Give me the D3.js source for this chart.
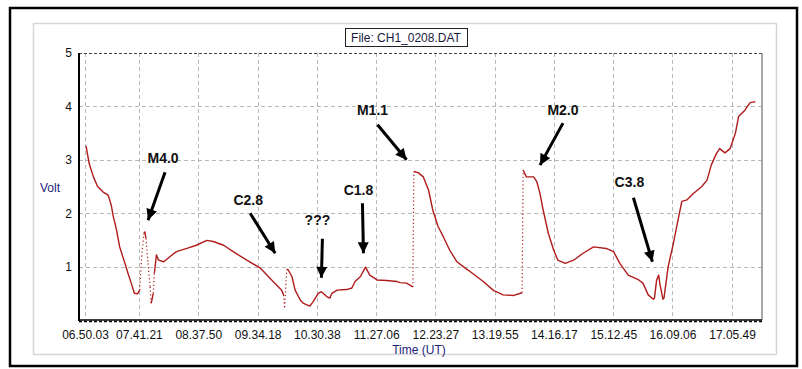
<!DOCTYPE html>
<html>
<head>
<meta charset="utf-8">
<script src="https://cdn.jsdelivr.net/npm/d3@7"></script>
<style>
  body { margin: 0; background: #fff; }
  svg { display: block; font-family: "Liberation Sans", Arial, sans-serif; }
</style>
</head>
<body>
<div id="chart"></div>
<script>
// readings, time (UT) and volts
const times = [
  "06:51", "06:54", "06:58", "07:02", "07:07", "07:12", "07:15", "07:17", "07:20", "07:23",
  "07:28", "07:31", "07:34", "07:37", "07:40", "07:42", "07:44", "07:46", "07:47", "07:48",
  "07:50", "07:52", "07:53", "07:55", "07:56", "07:58", "08:00", "08:05", "08:11", "08:17",
  "08:27", "08:36", "08:46", "08:52", "09:02", "09:11", "09:24", "09:37", "09:49", "09:57",
  "09:59", "10:00", "10:02", "10:03", "10:07", "10:10", "10:15", "10:18", "10:24", "10:27",
  "10:32", "10:35", "10:40", "10:43", "10:45", "10:50", "10:59", "11:04", "11:07", "11:12",
  "11:17", "11:21", "11:28", "11:37", "11:47", "11:50", "11:56", "12:02", "12:03", "12:07",
  "12:12", "12:17", "12:21", "12:26", "12:31", "12:37", "12:44", "12:50", "12:59", "13:09",
  "13:19", "13:28", "13:38", "13:46", "13:47", "13:50", "13:57", "14:00", "14:03", "14:06",
  "14:11", "14:16", "14:20", "14:27", "14:35", "14:44", "14:54", "15:06", "15:13", "15:19",
  "15:27", "15:37", "15:41", "15:46", "15:51", "15:52", "15:54", "15:56", "15:57", "16:00",
  "16:01", "16:05", "16:10", "16:15", "16:18", "16:23", "16:29", "16:37", "16:42", "16:46",
  "16:51", "16:54", "16:59", "17:04", "17:09", "17:12", "17:18", "17:23", "17:28"
];
const volts = [
  3.26, 2.93, 2.68, 2.50, 2.40, 2.34, 2.15, 1.93, 1.69, 1.37,
  1.06, 0.87, 0.69, 0.50, 0.49, 0.56, 1.19, 1.62, 1.65, 1.53,
  1.06, 0.62, 0.31, 0.50, 0.87, 1.22, 1.12, 1.09, 1.19, 1.28,
  1.34, 1.40, 1.49, 1.47, 1.40, 1.28, 1.12, 0.97, 0.72, 0.56,
  0.47, 0.24, 0.94, 0.95, 0.81, 0.56, 0.37, 0.31, 0.26, 0.34,
  0.50, 0.53, 0.44, 0.41, 0.50, 0.56, 0.57, 0.60, 0.72, 0.81,
  0.99, 0.84, 0.75, 0.74, 0.72, 0.70, 0.69, 0.62, 2.78, 2.76,
  2.68, 2.43, 2.06, 1.75, 1.56, 1.31, 1.09, 1.00, 0.87, 0.72,
  0.55, 0.47, 0.46, 0.51, 2.81, 2.68, 2.68, 2.59, 2.37, 2.06,
  1.62, 1.31, 1.12, 1.06, 1.12, 1.25, 1.37, 1.34, 1.28, 1.06,
  0.84, 0.75, 0.69, 0.47, 0.39, 0.41, 0.75, 0.84, 0.69, 0.39,
  0.41, 1.00, 1.44, 1.93, 2.22, 2.25, 2.37, 2.50, 2.62, 2.90,
  3.12, 3.21, 3.13, 3.21, 3.50, 3.81, 3.93, 4.07, 4.09
];

const tickLabels = ["06.50.03", "07.41.21", "08.37.50", "09.34.18", "10.30.38", "11.27.06",
  "12.23.27", "13.19.55", "14.16.17", "15.12.45", "16.09.06", "17.05.49"];
const voltTicks = [1, 2, 3, 4, 5];

// flare labels: arrow tip at (time, volt), tail and label offset in px
const noteLabels = ["M4.0", "C2.8", "???", "C1.8", "M1.1", "M2.0", "C3.8"];
const noteTimes = ["07:50", "09:51", "10:35", "11:15", "11:56", "14:03", "15:50"];
const noteVolts = [1.87, 1.25, 0.79, 1.25, 3.0, 2.9, 1.09];
const noteTail = [[17, -48], [-25, -40], [1, -39], [-1, -50], [-29, -35], [23, -42], [-19, -64]];
const noteText = [[15, -57], [-27, -48], [-4, -53], [-5, -58], [-34, -45], [23, -50], [-23, -75]];

const W = 802, H = 369;
const PLOT = {left: 79, right: 762, top: 53, bottom: 320};

const parseHM = d3.timeParse("%H:%M");
const parseHMS = d3.timeParse("%H:%M:%S");
const parseTick = d3.timeParse("%H.%M.%S");

const svg = d3.select("#chart").append("svg")
  .attr("width", W)
  .attr("height", H);

// outer frame and inner panel
svg.append("rect")
  .attr("x", 10).attr("y", 8).attr("width", 787).attr("height", 358)
  .attr("fill", "#fff").attr("stroke", "#000").attr("stroke-width", 2.5);
svg.append("rect")
  .attr("x", 33.5).attr("y", 23.5).attr("width", 743).attr("height", 331)
  .attr("fill", "#fff").attr("stroke", "#d6d6d6").attr("stroke-width", 1.5);

const x = d3.scaleTime()
  .domain([parseHMS("06:44:18"), parseHMS("17:34:18")])
  .range([PLOT.left, PLOT.right]);

const y = d3.scaleLinear()
  .domain([0, 5])
  .range([PLOT.bottom, PLOT.top]);

const tickDates = tickLabels.map(parseTick);

// grid
svg.append("g").selectAll("line")
  .data(tickDates)
  .join("line")
  .attr("x1", d => Math.round(x(d)) + 0.5).attr("x2", d => Math.round(x(d)) + 0.5)
  .attr("y1", PLOT.top).attr("y2", PLOT.bottom)
  .attr("stroke", "#b8b8b8").attr("stroke-dasharray", "4,3");

svg.append("g").selectAll("line")
  .data(voltTicks.filter(v => v < 5))
  .join("line")
  .attr("x1", PLOT.left).attr("x2", PLOT.right)
  .attr("y1", d => Math.round(y(d)) + 0.5).attr("y2", d => Math.round(y(d)) + 0.5)
  .attr("stroke", "#b8b8b8").attr("stroke-dasharray", "4,3");

// top dashed border, right solid border
svg.append("line")
  .attr("x1", PLOT.left).attr("x2", PLOT.right)
  .attr("y1", y(5) + 0.5).attr("y2", y(5) + 0.5)
  .attr("stroke", "#444").attr("stroke-dasharray", "3,2").attr("stroke-width", 1.2);
svg.append("line")
  .attr("x1", PLOT.right).attr("x2", PLOT.right)
  .attr("y1", PLOT.top).attr("y2", PLOT.bottom)
  .attr("stroke", "#8a8a8a").attr("stroke-width", 1.5);

// axes
const xAxis = d3.axisBottom(x)
  .tickValues(tickDates)
  .tickFormat(d3.timeFormat("%H.%M.%S"))
  .tickSize(0)
  .tickPadding(10);

const gx = svg.append("g")
  .attr("transform", `translate(0,${PLOT.bottom})`)
  .call(xAxis);
gx.select(".domain").remove();
gx.selectAll("text").attr("font-size", 12).attr("fill", "#111")
  .attr("font-family", "'Liberation Sans', Arial, sans-serif");

const yAxis = d3.axisLeft(y)
  .tickValues(voltTicks)
  .tickFormat(d3.format("d"))
  .tickSize(0)
  .tickPadding(7);

const gy = svg.append("g")
  .attr("transform", `translate(${PLOT.left},0)`)
  .call(yAxis);
gy.select(".domain").remove();
gy.selectAll("text").attr("font-size", 12).attr("fill", "#111")
  .attr("font-family", "'Liberation Sans', Arial, sans-serif");

svg.append("line")
  .attr("x1", PLOT.left).attr("x2", PLOT.left)
  .attr("y1", PLOT.top).attr("y2", PLOT.bottom + 1)
  .attr("stroke", "#000").attr("stroke-width", 2);
svg.append("line")
  .attr("x1", PLOT.left - 1).attr("x2", PLOT.right)
  .attr("y1", PLOT.bottom).attr("y2", PLOT.bottom)
  .attr("stroke", "#000").attr("stroke-width", 1.5);
svg.append("line")
  .attr("x1", PLOT.left).attr("x2", PLOT.right)
  .attr("y1", PLOT.bottom + 1.5).attr("y2", PLOT.bottom + 1.5)
  .attr("stroke", "#000").attr("stroke-width", 1.5).attr("stroke-dasharray", "3,2");

// axis titles
svg.append("text")
  .attr("x", 40).attr("y", 192)
  .attr("font-size", 12).attr("fill", "#1e1e78")
  .text("Volt");
svg.append("text")
  .attr("x", 419).attr("y", 354)
  .attr("text-anchor", "middle")
  .attr("font-size", 12).attr("fill", "#1e1e78")
  .text("Time (UT)");

// file title box
const title = svg.append("g");
title.append("rect")
  .attr("x", 345.5).attr("y", 28.5).attr("width", 122).attr("height", 18)
  .attr("fill", "#fff").attr("stroke", "#222").attr("stroke-width", 1);
title.append("text")
  .attr("x", 406).attr("y", 42)
  .attr("text-anchor", "middle")
  .attr("font-size", 12).attr("fill", "#1a1a40")
  .text("File: CH1_0208.DAT");

// the trace: steep jumps (sparse samples) drawn dotted
const pts = times.map((t, i) => ({t: parseHM(t), v: volts[i]}));
const line = d3.line().x(d => x(d.t)).y(d => y(d.v));

const runs = [];
let run = [pts[0]];
for (let i = 1; i < pts.length; i++) {
  const dtMin = (pts[i].t - pts[i - 1].t) / 60000;
  const steep = Math.abs(pts[i].v - pts[i - 1].v) / dtMin > 0.2;
  if (steep) {
    runs.push(run);
    svg.append("path")
      .datum([pts[i - 1], pts[i]])
      .attr("fill", "none")
      .attr("stroke", "#b01c1c")
      .attr("stroke-width", 1.2)
      .attr("stroke-dasharray", "1.2,2.5")
      .attr("d", line);
    run = [pts[i]];
  } else {
    run.push(pts[i]);
  }
}
runs.push(run);

svg.append("g").selectAll("path")
  .data(runs.filter(r => r.length > 1))
  .join("path")
  .attr("fill", "none")
  .attr("stroke", "#b01c1c")
  .attr("stroke-width", 1.4)
  .attr("stroke-linejoin", "round")
  .attr("d", line);

// arrows and labels
svg.append("defs").append("marker")
  .attr("id", "head")
  .attr("viewBox", "0 0 10 10")
  .attr("refX", 10).attr("refY", 5)
  .attr("markerUnits", "userSpaceOnUse")
  .attr("markerWidth", 12).attr("markerHeight", 11)
  .attr("orient", "auto")
  .append("path")
  .attr("d", "M0,0 L10,5 L0,10 Z")
  .attr("fill", "#000");

const notes = noteLabels.map((label, i) => {
  const tx = x(parseHM(noteTimes[i])), ty = y(noteVolts[i]);
  return {
    label,
    tip: [tx, ty],
    tail: [tx + noteTail[i][0], ty + noteTail[i][1]],
    text: [tx + noteText[i][0], ty + noteText[i][1]]
  };
});

svg.append("g").selectAll("line")
  .data(notes)
  .join("line")
  .attr("x1", d => d.tail[0]).attr("y1", d => d.tail[1])
  .attr("x2", d => d.tip[0]).attr("y2", d => d.tip[1])
  .attr("stroke", "#000").attr("stroke-width", 3)
  .attr("marker-end", "url(#head)");

svg.append("g").selectAll("text")
  .data(notes)
  .join("text")
  .attr("x", d => d.text[0]).attr("y", d => d.text[1])
  .attr("text-anchor", "middle")
  .attr("font-size", 14).attr("font-weight", "bold").attr("fill", "#111")
  .text(d => d.label);
</script>
</body>
</html>
